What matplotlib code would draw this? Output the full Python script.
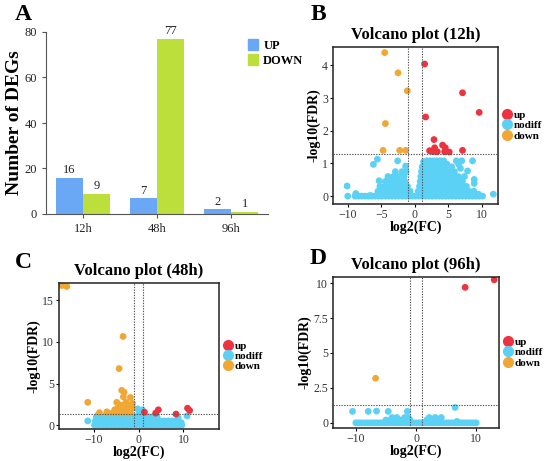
import numpy as np
import matplotlib.pyplot as plt
from matplotlib.lines import Line2D
from matplotlib.patches import Patch

plt.rcParams['font.family'] = ['Liberation Serif', 'DejaVu Serif']

# Panel A data
times = ['12h', '48h', '96h']
deg_up = [16, 7, 2]
deg_down = [9, 77, 1]

# Panel B (12h) points, (log2FC, -log10FDR)
b_up = [(1.46, 4.04), (7.11, 3.16), (9.6, 2.56), (1.61, 2.42), (2.86, 1.73),
        (4.14, 1.56), (4.54, 1.48), (2.95, 1.48), (2.2, 1.39), (2.7, 1.36),
        (3.35, 1.36), (4.44, 1.36), (5.13, 1.35), (7.11, 1.40)]
b_down = [(-4.49, 4.39), (-2.5, 3.77), (-1.12, 3.22), (-4.39, 2.22),
          (-4.73, 1.40), (-2.26, 1.40), (-1.37, 1.40)]
b_nodiff = [
    (-10.0, 0.0), (-10.1, 0.31), (11.7, 0.06),
    (-8.9, 0.0), (-8.4, 0.0), (-7.9, 0.0), (-7.4, 0.0), (-6.9, 0.0), (-6.4, 0.0),
    (-5.9, 0.0), (-5.4, 0.0), (-4.9, 0.0), (-4.4, 0.0), (-3.9, 0.0), (-3.4, 0.0),
    (-2.9, 0.0), (-2.4, 0.0), (-1.9, 0.0), (-1.4, 0.0), (-0.9, 0.0), (-0.4, 0.0),
    (0.1, 0.0), (0.6, 0.0), (1.1, 0.0), (1.6, 0.0), (2.1, 0.0), (2.6, 0.0),
    (3.1, 0.0), (3.6, 0.0), (4.1, 0.0), (4.6, 0.0), (5.1, 0.0), (5.6, 0.0),
    (6.1, 0.0), (6.6, 0.0), (7.1, 0.0), (7.6, 0.0), (8.1, 0.0), (8.6, 0.0),
    (9.1, 0.0), (9.6, 0.0), (10.1, 0.0), (-8.8, 0.08), (9.5, 0.06),
    (-8.65, 0.02), (-6.65, 0.02), (-4.65, 0.02), (-2.65, 0.02), (-0.65, 0.02),
    (1.35, 0.02), (3.35, 0.02), (5.35, 0.02), (7.35, 0.02), (9.35, 0.02),
    (-5.5, 0.15), (-4.8, 0.15), (-4.1, 0.15), (-3.4, 0.15), (-2.7, 0.15),
    (-2.0, 0.15), (-1.3, 0.15), (-0.7, 0.15),
    (-5.2, 0.3), (-4.5, 0.3), (-3.8, 0.3), (-3.1, 0.3), (-2.4, 0.3), (-1.7, 0.3),
    (-1.1, 0.3),
    (-5.33, 0.47), (-4.4, 0.45), (-3.6, 0.45), (-2.9, 0.45), (-2.2, 0.45),
    (-1.5, 0.45),
    (-4.0, 0.6), (-3.2, 0.6), (-2.4, 0.6), (-1.6, 0.6),
    (-2.9, 0.75), (-1.9, 0.75), (-1.3, 0.75),
    (-2.56, 1.08), (-1.37, 0.92), (-6.18, 0.97), (-5.58, 1.13),
    (0.5, 0.15), (1.1, 0.15), (1.8, 0.15), (2.5, 0.15), (3.2, 0.15), (3.9, 0.15),
    (4.6, 0.15), (5.3, 0.15), (6.0, 0.15), (6.7, 0.15), (7.4, 0.15), (8.1, 0.15),
    (8.8, 0.15),
    (0.7, 0.3), (1.4, 0.3), (2.1, 0.3), (2.8, 0.3), (3.5, 0.3), (4.2, 0.3),
    (4.9, 0.3), (5.6, 0.3), (6.3, 0.3), (7.0, 0.3), (7.7, 0.3),
    (0.8, 0.45), (1.5, 0.45), (2.2, 0.45), (2.9, 0.45), (3.6, 0.45), (4.3, 0.45),
    (5.0, 0.45), (5.7, 0.45), (6.4, 0.45), (7.1, 0.45),
    (0.9, 0.6), (1.6, 0.6), (2.3, 0.6), (3.0, 0.6), (3.7, 0.6), (4.4, 0.6),
    (5.1, 0.6), (5.8, 0.6), (6.5, 0.6), (7.4, 0.6),
    (1.0, 0.75), (1.7, 0.75), (2.4, 0.75), (3.1, 0.75), (3.8, 0.75), (4.5, 0.75),
    (5.2, 0.75), (5.9, 0.75),
    (1.1, 0.9), (1.8, 0.9), (2.5, 0.9), (3.2, 0.9), (3.9, 0.9), (4.6, 0.9),
    (5.5, 0.9),
    (1.3, 1.05), (1.8, 1.08), (2.3, 1.08), (2.8, 1.08), (3.3, 1.08), (3.8, 1.08),
    (4.3, 1.08),
    (4.79, 0.98), (6.18, 1.08), (6.52, 0.98), (7.0, 1.08), (6.8, 0.85),
    (7.86, 0.77), (8.6, 1.08), (8.85, 0.51), (8.85, 0.39),
]

# Panel C (48h)
c_up = [(1.3, 1.56), (3.81, 1.44), (4.41, 1.84), (8.33, 1.33), (10.9, 2.03),
        (11.36, 1.76)]
c_down = [
    (-17.07, 16.8), (-15.96, 16.68), (-3.44, 10.67), (-4.33, 6.8), (-3.74, 4.18),
    (-3.22, 3.95), (-3.37, 3.4), (-1.81, 3.32), (-11.3, 2.74), (-4.85, 2.74),
    (-2.78, 2.74), (-1.37, 2.62), (-4.1, 2.42), (-3.37, 2.42), (-2.4, 2.42),
    (-1.67, 2.42), (-4.56, 2.1), (-3.82, 2.1), (-2.93, 2.1), (-2.19, 2.1),
    (-1.3, 2.1), (-5.3, 1.84), (-3.44, 1.84), (-2.7, 1.84), (-1.74, 1.84),
    (-8.7, 1.5), (-7.07, 1.6), (-6.7, 1.45), (-5.6, 1.5), (-4.5, 1.45),
    (-3.0, 1.45), (-1.9, 1.45),
]
c_nodiff = [
    (-11.3, 0.5), (10.8, 1.1), (0.85, 1.84), (-0.2, 1.95), (8.8, 0.9), (9.5, 0.3),
    (-9.8, 0.0), (-8.9, 0.0), (-8.0, 0.0), (-7.1, 0.0), (-6.2, 0.0), (-5.3, 0.0),
    (-4.4, 0.0), (-3.5, 0.0), (-2.6, 0.0), (-1.7, 0.0), (-0.8, 0.0), (0.1, 0.0),
    (1.0, 0.0), (1.9, 0.0), (2.8, 0.0), (3.7, 0.0), (4.6, 0.0), (5.5, 0.0),
    (6.4, 0.0), (7.3, 0.0), (8.2, 0.0), (9.1, 0.0), (9.6, 0.0),
    (-9.6, 0.5), (-8.7, 0.5), (-7.8, 0.5), (-6.9, 0.5), (-6.0, 0.5), (-5.1, 0.5),
    (-4.2, 0.5), (-3.3, 0.5), (-2.4, 0.5), (-1.5, 0.5), (-0.6, 0.5), (0.3, 0.5),
    (1.2, 0.5), (2.1, 0.5), (3.0, 0.5), (3.9, 0.5), (4.8, 0.5), (5.7, 0.5),
    (6.6, 0.5), (7.5, 0.5), (8.4, 0.5),
    (-9.4, 1.0), (-8.5, 1.0), (-7.6, 1.0), (-6.7, 1.0), (-5.8, 1.0), (-4.9, 1.0),
    (-4.0, 1.0), (-3.1, 1.0), (-2.2, 1.0), (-1.3, 1.0), (-0.4, 1.0), (0.5, 1.0),
    (1.4, 1.0), (2.3, 1.0), (3.2, 1.0), (4.1, 1.0),
    (-9.0, 1.25), (-7.2, 1.25), (-5.4, 1.25), (-3.6, 1.25), (-1.8, 1.25),
    (0.0, 1.25),
]

# Panel D (96h)
d_up = [(8.17, 9.7), (13.0, 10.24)]
d_down = [(-6.72, 3.19)]
d_nodiff = [
    (-10.56, 0.82), (-7.94, 0.82), (-6.56, 0.84), (-4.61, 0.82), (-1.44, 0.82),
    (6.5, 1.1),
    (-10.0, 0.0), (-9.0, 0.0), (-8.0, 0.0), (-7.0, 0.0), (-6.0, 0.0), (-5.0, 0.0),
    (-4.0, 0.0), (-3.0, 0.0), (-2.0, 0.0), (-1.0, 0.0), (0.0, 0.0), (1.0, 0.0),
    (2.0, 0.0), (3.0, 0.0), (4.0, 0.0), (5.0, 0.0), (6.0, 0.0), (7.0, 0.0),
    (8.0, 0.0), (9.0, 0.0), (10.0, 0.0),
    (-9.5, 0.0), (-8.5, 0.0), (-7.5, 0.0), (-6.5, 0.0), (-5.5, 0.0), (-4.5, 0.0),
    (-3.5, 0.0), (-2.5, 0.0), (-1.5, 0.0), (-0.5, 0.0), (0.5, 0.0), (1.5, 0.0),
    (2.5, 0.0), (3.5, 0.0), (4.5, 0.0), (5.5, 0.0), (6.5, 0.0), (7.5, 0.0),
    (8.5, 0.0), (9.5, 0.0),
    (-5.0, 0.2), (-4.2, 0.2), (-3.4, 0.2), (-2.6, 0.2), (-1.8, 0.2), (-1.0, 0.2),
    (1.8, 0.2), (2.6, 0.2), (3.4, 0.2), (6.8, 0.1),
    (-4.0, 0.38), (-3.2, 0.38), (-1.9, 0.38), (-1.3, 0.38), (2.2, 0.38),
    (3.2, 0.38), (4.2, 0.38),
]

UP_C = '#ee3340'
ND_C = '#5bd1f5'
DN_C = '#f1a733'

fig = plt.figure(figsize=(5.5, 4.61), dpi=100)
W, H = 550.0, 461.0


def px_axes(left, top, right, bottom):
    return fig.add_axes([left / W, 1 - bottom / H, (right - left) / W, (bottom - top) / H])


# ---- Panel A: bar chart
axA = px_axes(46, 32, 268, 214)
x = np.arange(len(times))
bw = 0.37
b1 = axA.bar(x - bw / 2, deg_up, bw, color='#6aa8f6', label='UP')
b2 = axA.bar(x + bw / 2, deg_down, bw, color='#bcdf3c', label='DOWN')
axA.bar_label(b1, padding=1, fontsize=9, color='#222222')
axA.bar_label(b2, padding=1, fontsize=9, color='#222222')
axA.set_xlim(-0.5, 2.5)
axA.set_ylim(0, 80)
axA.set_yticks([0, 20, 40, 60, 80])
axA.set_xticks(x)
axA.set_xticklabels(times)
for s in ['top', 'right']:
    axA.spines[s].set_visible(False)
for s in ['left', 'bottom']:
    axA.spines[s].set_color('#555555')
    axA.spines[s].set_linewidth(0.8)
axA.tick_params(direction='out', length=3, width=0.8, color='#555555',
                labelsize=9, labelcolor='#222222')
axA.set_ylabel('Number of DEGs', fontsize=14, fontweight='bold', labelpad=1)
axA.legend(handles=[Patch(color='#6aa8f6', label='UP'), Patch(color='#bcdf3c', label='DOWN')],
           loc='upper left', bbox_to_anchor=(242 / W, 1 - 33 / H), bbox_transform=fig.transFigure,
           frameon=False, prop={'weight': 'bold', 'size': 9}, handlelength=0.8,
           handleheight=0.9, handletextpad=0.4, labelspacing=0.2, borderpad=0)


def volcano(ax, up, nodiff, down, title, xlim, ylim, xticks, yticks, yticklabels):
    for pts, col in [(nodiff, ND_C), (down, DN_C), (up, UP_C)]:
        xs, ys = zip(*pts)
        ax.scatter(xs, ys, s=24, color=col, edgecolors='none', zorder=2)
    ax.axvline(-1, color='#555555', ls=(0, (1.2, 1.2)), lw=0.8, zorder=3)
    ax.axvline(1, color='#555555', ls=(0, (1.2, 1.2)), lw=0.8, zorder=3)
    ax.axhline(1.301, color='#555555', ls=(0, (1.2, 1.2)), lw=0.8, zorder=3)
    ax.set_xlim(*xlim)
    ax.set_ylim(*ylim)
    ax.set_xticks(xticks)
    ax.set_yticks(yticks)
    ax.set_yticklabels(yticklabels)
    for s in ax.spines.values():
        s.set_linewidth(1.1)
        s.set_color('#222222')
    ax.tick_params(direction='out', length=2.5, width=0.8, labelsize=8.5,
                   labelcolor='#333333', pad=1)
    ax.set_title(title, fontsize=12, fontweight='bold', pad=6)
    ax.set_xlabel('log2(FC)', fontsize=10, fontweight='bold', labelpad=0)
    ax.set_ylabel('-log10(FDR)', fontsize=10, fontweight='bold', labelpad=1)
    handles = [Line2D([], [], ls='', marker='o', ms=7, color=c, label=l)
               for c, l in [(UP_C, 'up'), (ND_C, 'nodiff'), (DN_C, 'down')]]
    ax.legend(handles=handles, loc='center left', bbox_to_anchor=(1.0, 0.5),
              frameon=False, prop={'weight': 'bold', 'size': 8}, handlelength=0.6,
              handletextpad=0.3, labelspacing=0.05, borderpad=0.3, borderaxespad=0.2)


axB = px_axes(333, 47, 498, 204)
volcano(axB, b_up, b_nodiff, b_down, 'Volcano plot (12h)', (-12.2, 12.4), (-0.24, 4.56),
        [-10, -5, 0, 5, 10], [0, 1, 2, 3, 4], ['0', '1', '2', '3', '4'])

axC = px_axes(59, 283, 219, 429)
volcano(axC, c_up, c_nodiff, c_down, 'Volcano plot (48h)', (-17.7, 17.9), (-0.47, 17.1),
        [-10, 0, 10], [0, 5, 10, 15], ['0', '5', '10', '15'])

axD = px_axes(333, 277, 499, 428)
volcano(axD, d_up, d_nodiff, d_down, 'Volcano plot (96h)', (-13.8, 13.8), (-0.37, 10.44),
        [-10, 0, 10], [0, 2.5, 5, 7.5, 10], ['0', '2.5', '5', '7.5', '10'])

# panel letters
for letter, (lx, ly) in {'A': (15, 15), 'B': (311, 15), 'C': (15, 262), 'D': (310, 258)}.items():
    fig.text(lx / W, 1 - ly / H, letter, fontsize=17, fontweight='bold', va='center', ha='left')

fig.savefig('out.png', dpi=100)
